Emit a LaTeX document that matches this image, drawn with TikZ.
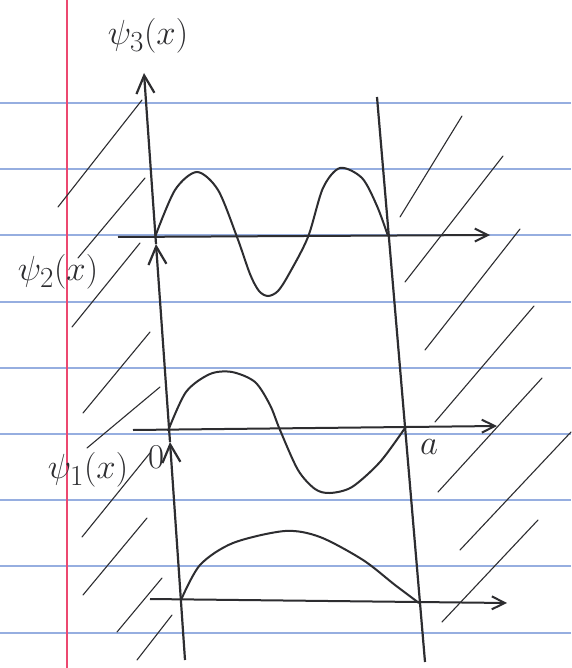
\documentclass[tikz,border=0pt]{standalone}
\usepackage{amsmath,amssymb}
\usepackage{tikz}
\usetikzlibrary{arrows.meta,calc}
\definecolor{PaperRule}{RGB}{150, 174, 224}
\definecolor{PaperMargin}{RGB}{236, 72, 112}
\definecolor{Pencil}{RGB}{45, 45, 48}

\begin{document}
\begin{tikzpicture}[x=1pt, y=-1pt]
  \tikzstyle{ruling} = [draw=PaperRule, line width=1.6pt]
  \tikzstyle{marginline} = [draw=PaperMargin, line width=1.4pt]
  \tikzstyle{wall} = [draw=Pencil, line width=2.2pt]
  \tikzstyle{yarrow} = [draw=Pencil, line width=2.2pt, -{Straight Barb[length=18pt,width=18pt]}]
  \tikzstyle{xarrow} = [draw=Pencil, line width=2pt, -{Straight Barb[length=13pt,width=13pt]}]
  \tikzstyle{wavefn} = [draw=Pencil, line width=2pt]
  \tikzstyle{hatch} = [draw=Pencil, line width=1.1pt, line cap=round]
  \tikzstyle{handlabel} = [text=Pencil, font=\Huge, scale=1.4, inner sep=0pt]

  \useasboundingbox (0,0) rectangle (571,668);
  \fill[white] (0,0) rectangle (571,668);
  \foreach \y in {103,169,235,302,368,434,500,566,633}
    \draw[ruling] (0,\y) -- (571,\y);
  \draw[marginline] (67,0) -- (67,668);

  \foreach \xa/\ya/\xb/\yb in {142/100/58/207, 145/178/78/258, 140/243/72/327,
      150/332/83/413, 160/387/87/448, 150/453/82/537, 147/518/83/595,
      162/578/117/632, 172/615/137/660,
      462/116/400/217, 503/156/405/282, 520/229/425/350, 534/306/435/422,
      542/378/438/492, 571/432/460/550, 538/520/442/622}
    \draw[hatch] (\xa,\ya) -- (\xb,\yb);

  \coordinate (top) at (144,73);
  \coordinate (t2) at (156,244);
  \coordinate (t1) at (170,442);
  \coordinate (bot) at (185,660);
  \coordinate (rtop) at (377,97);
  \coordinate (rbot) at (425,662);

  \coordinate (o3) at (155,237);
  \coordinate (a3) at (388,236);
  \coordinate (o2) at (168,431);
  \coordinate (a2) at (405,428);
  \coordinate (o1) at (181,600);
  \coordinate (a1) at (419,603);

  \coordinate (x3s) at (118,237);
  \coordinate (x3e) at (490,235);
  \coordinate (x2s) at (133,430);
  \coordinate (x2e) at (497,426);
  \coordinate (x1s) at (150,599);
  \coordinate (x1e) at (507,603);

  \draw[yarrow] (bot) -- (t1);
  \draw[yarrow] (t1) -- (t2);
  \draw[yarrow] (t2) -- (top);
  \draw[wall] (rtop) -- (rbot);

  \draw[xarrow] (x3s) -- (x3e);
  \draw[xarrow] (x2s) -- (x2e);
  \draw[xarrow] (x1s) -- (x1e);

  \draw[wavefn] plot[smooth] coordinates {(o3) (175,190) (197,172) (218,190)
      (237,237) (250,274) (259,291) (268,296) (278,291) (289,274) (308,237)
      (323,188) (340,168) (362,178) (377,206) (a3)};
  \draw[wavefn] plot[smooth] coordinates {(o2) (186,392) (210,374) (232,372)
      (255,382) (270,405) (280,430) (298,470) (315,489) (330,493) (352,487)
      (380,462) (a2)};
  \draw[wavefn] plot[smooth] coordinates {(o1) (200,565) (233,543) (285,531)
      (320,537) (363,560) (395,585) (a1)};

  \node[handlabel] (psi3) at (148,36) {$\psi_3(x)$};
  \node[handlabel] (psi2) at (58,272) {$\psi_2(x)$};
  \node[handlabel] (psi1) at (88,470) {$\psi_1(x)$};
  \node[handlabel] (zero) at (156,457) {$0$};
  \node[handlabel] (wella) at (429,447) {$a$};
\end{tikzpicture}
\end{document}
